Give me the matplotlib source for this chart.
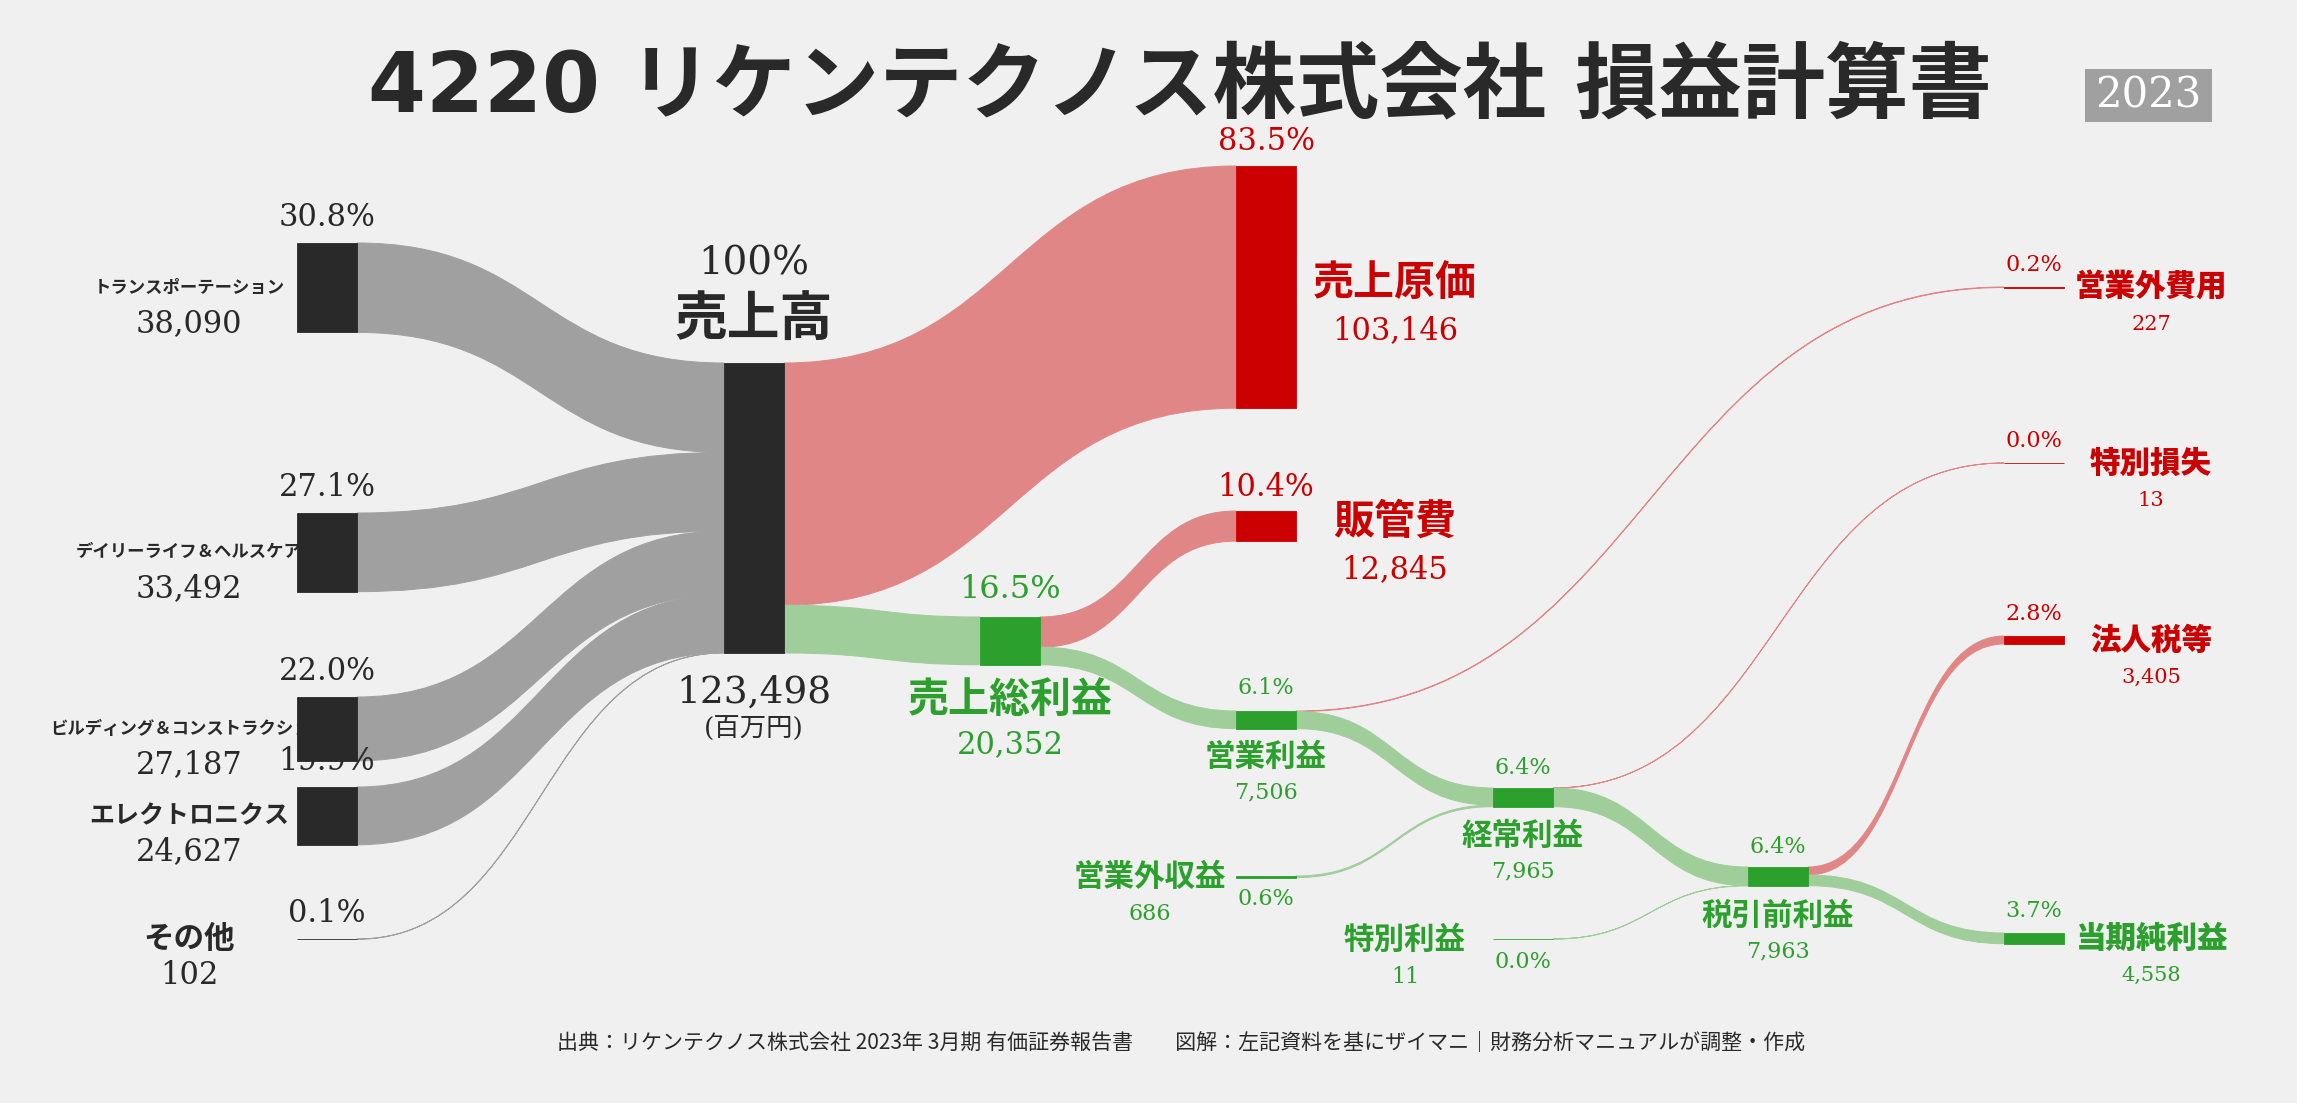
import matplotlib
matplotlib.use("Agg")
import matplotlib.pyplot as plt
from matplotlib.path import Path
from matplotlib.patches import PathPatch, Rectangle

# ---- data (百万円) ----
seg_names = ['トランスポーテーション', 'デイリーライフ＆ヘルスケア',
             'ビルディング＆コンストラクション', 'エレクトロニクス', 'その他']
seg_values = [38090, 33492, 27187, 24627, 102]
revenue = 123498
cogs = 103146
gross = 20352
sga = 12845
op_income = 7506
nonop_income = 686
nonop_expense = 227
ordinary = 7965
special_gain = 11
special_loss = 13
pretax = 7963
tax = 3405
net_income = 4558

title = '4220 リケンテクノス株式会社 損益計算書'
year = '2023'
footer = '出典：リケンテクノス株式会社 2023年 3月期 有価証券報告書　　図解：左記資料を基にザイマニ｜財務分析マニュアルが調整・作成'

# ---- colours / fonts ----
BG = '#f0f0f0'
DARK = '#292929'
RED = '#cc0000'
GREEN = '#2ca02c'
FLOW = {'gray': '#a0a0a0', 'red': '#e08686', 'green': '#9fce9a'}
NODEC = {'gray': DARK, 'red': RED, 'green': GREEN}
CJK = 'Noto Sans CJK JP'
NUM = 'DejaVu Serif'

# ---- layout (pixels) ----
W, H = 2297, 1103
NW = 60
scale = 290 / revenue

nodes = {}
seg_x = 297
seg_tops = [243, 513, 697, 787, 939]
for name, v, t in zip(seg_names, seg_values, seg_tops):
    nodes[name] = dict(v=v, x=seg_x, y=t, kind='gray')
nodes['売上高'] = dict(v=revenue, x=724, y=363, kind='gray')
nodes['売上原価'] = dict(v=cogs, x=1236, y=166, kind='red')
nodes['販管費'] = dict(v=sga, x=1236, y=511, kind='red')
nodes['売上総利益'] = dict(v=gross, x=980, y=617, kind='green')
nodes['営業利益'] = dict(v=op_income, x=1236, y=711, kind='green')
nodes['営業外収益'] = dict(v=nonop_income, x=1236, y=876, kind='green')
nodes['経常利益'] = dict(v=ordinary, x=1493, y=788, kind='green')
nodes['営業外費用'] = dict(v=nonop_expense, x=2004, y=287, kind='red')
nodes['特別利益'] = dict(v=special_gain, x=1493, y=939, kind='green')
nodes['特別損失'] = dict(v=special_loss, x=2004, y=463, kind='red')
nodes['税引前利益'] = dict(v=pretax, x=1748, y=867, kind='green')
nodes['法人税等'] = dict(v=tax, x=2004, y=636, kind='red')
nodes['当期純利益'] = dict(v=net_income, x=2004, y=933, kind='green')

flows = [(n, '売上高', v) for n, v in zip(seg_names, seg_values)]
flows += [('売上高', '売上原価', cogs), ('売上高', '売上総利益', gross),
          ('売上総利益', '販管費', sga), ('売上総利益', '営業利益', op_income),
          ('営業利益', '営業外費用', nonop_expense),
          ('営業利益', '経常利益', op_income - nonop_expense),
          ('営業外収益', '経常利益', nonop_income),
          ('経常利益', '特別損失', special_loss),
          ('経常利益', '税引前利益', ordinary - special_loss),
          ('特別利益', '税引前利益', special_gain),
          ('税引前利益', '法人税等', tax), ('税引前利益', '当期純利益', net_income)]

fig = plt.figure(figsize=(W / 100, H / 100), dpi=100, facecolor=BG)
ax = fig.add_axes([0, 0, 1, 1])
ax.set_xlim(0, W)
ax.set_ylim(H, 0)
ax.axis('off')
ax.set_facecolor(BG)


def band(x0, a0, b0, x1, a1, b1, color):
    xm = (x0 + x1) / 2
    verts = [(x0, a0), (xm, a0), (xm, a1), (x1, a1), (x1, b1),
             (xm, b1), (xm, b0), (x0, b0), (x0, a0)]
    codes = [Path.MOVETO, Path.CURVE4, Path.CURVE4, Path.CURVE4, Path.LINETO,
             Path.CURVE4, Path.CURVE4, Path.CURVE4, Path.CLOSEPOLY]
    ax.add_patch(PathPatch(Path(verts, codes), facecolor=color,
                           edgecolor=color, lw=0.7, zorder=1))


out_off = {k: 0.0 for k in nodes}
in_off = {k: 0.0 for k in nodes}
for s, d, v in flows:
    h = v * scale
    ns, nd = nodes[s], nodes[d]
    a0 = ns['y'] + out_off[s]
    a1 = nd['y'] + in_off[d]
    out_off[s] += h
    in_off[d] += h
    kind = 'gray' if s in seg_names else nd['kind']
    band(ns['x'] + NW, a0, a0 + h, nd['x'], a1, a1 + h, FLOW[kind])

for k, n in nodes.items():
    c = NODEC[n['kind']]
    ax.add_patch(Rectangle((n['x'], n['y']), NW, n['v'] * scale,
                           facecolor=c, edgecolor=c, lw=0.6, zorder=3))


def pct(v):
    return f'{v / revenue * 100:.1f}%'


def txt(x, y, s, size, color, family, weight='normal'):
    ax.text(x, y, s, fontsize=size, color=color, family=family,
            fontweight=weight, ha='center', va='center', zorder=5)


# ---- segment labels ----
seg_name_size = [12.5, 12.5, 12.5, 18, 22]
for name, sz in zip(seg_names, seg_name_size):
    n = nodes[name]
    h = n['v'] * scale
    cy = n['y'] + h / 2
    txt(189, cy, name, sz, DARK, CJK, 'bold')
    txt(189, cy + 36, f"{n['v']:,}", 22, DARK, NUM)
    txt(n['x'] + NW / 2, n['y'] - 25, pct(n['v']), 22, DARK, NUM)

# revenue
n = nodes['売上高']
cx = n['x'] + NW / 2
txt(cx, n['y'] - 99, '100%', 28, DARK, NUM)
txt(cx, n['y'] - 44, '売上高', 38, DARK, CJK, 'bold')
txt(cx, n['y'] + revenue * scale + 40, f'{revenue:,}', 27, DARK, NUM)
txt(cx, n['y'] + revenue * scale + 76, '(百万円)', 19, DARK, [NUM, CJK])

# nodes labelled to the right (cost side)
for k in ['売上原価', '販管費']:
    n = nodes[k]
    h = n['v'] * scale
    txt(n['x'] + NW / 2, n['y'] - 24, pct(n['v']), 22, RED, NUM)
    txt(1395, n['y'] + h / 2 - 4, k, 29.5, RED, CJK, 'bold')
    txt(1395, n['y'] + h / 2 + 44, f"{n['v']:,}", 22, RED, NUM)

# nodes labelled below (profit chain)
below = [('売上総利益', 29.5, 22, 35, 80, 27),
         ('営業利益', 22, 16, 28, 64, 23),
         ('経常利益', 22, 16, 29, 65, 20),
         ('税引前利益', 22, 16, 30, 66, 20)]
for k, s_name, s_num, d1, d2, dp in below:
    n = nodes[k]
    h = n['v'] * scale
    cx = n['x'] + NW / 2
    txt(cx, n['y'] - dp, pct(n['v']), s_num + (1 if s_num > 20 else 0), GREEN, NUM)
    txt(cx, n['y'] + h + d1, k, s_name, GREEN, CJK, 'bold')
    txt(cx, n['y'] + h + d2, f"{n['v']:,}", s_num, GREEN, NUM)

# extra income nodes labelled to the left
for k, lx in [('営業外収益', 1150), ('特別利益', 1405)]:
    n = nodes[k]
    txt(lx, n['y'] + 1, k, 22, GREEN, CJK, 'bold')
    txt(lx, n['y'] + 38, f"{n['v']:,}", 16, GREEN, NUM)
    txt(n['x'] + NW / 2, n['y'] + 23, pct(n['v']), 16, GREEN, NUM)

# right column
for k in ['営業外費用', '特別損失', '法人税等', '当期純利益']:
    n = nodes[k]
    h = n['v'] * scale
    c = RED if n['kind'] == 'red' else GREEN
    cy = n['y'] + h / 2
    txt(n['x'] + NW / 2, n['y'] - 22, pct(n['v']), 16, c, NUM)
    txt(2151, cy, k, 22, c, CJK, 'heavy')
    txt(2151, cy + 37, f"{n['v']:,}", 15, c, NUM)

# title, year, footer
ax.text(1180, 88, title, fontsize=60, color=DARK, family=['DejaVu Sans', CJK],
        fontweight='bold', ha='center', va='center')
ax.add_patch(Rectangle((2085, 69), 127, 53, facecolor='#a0a0a0', edgecolor='none'))
ax.text(2148.5, 96, year, fontsize=30, color='white', family=NUM,
        ha='center', va='center')
ax.text(1181, 1042, footer, fontsize=15.1, color=DARK, family=CJK,
        ha='center', va='center')

fig.savefig('out.png', dpi=100, facecolor=BG)
